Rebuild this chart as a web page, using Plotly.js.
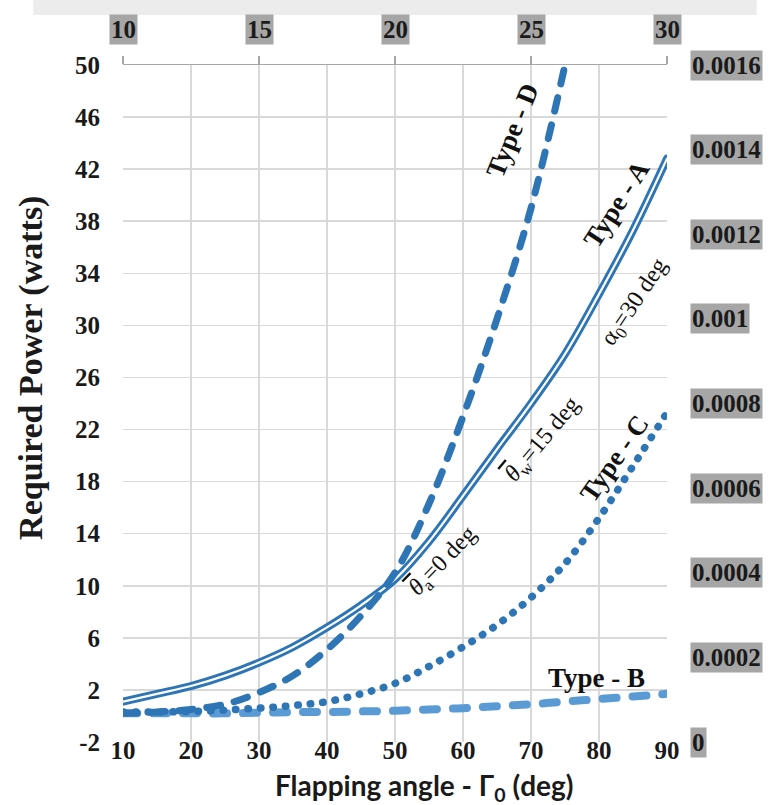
<!DOCTYPE html>
<html>
<head>
<meta charset="utf-8">
<script src="https://cdn.plot.ly/plotly-3.0.1.min.js"></script>
<style>
  html, body { margin: 0; padding: 0; background: #ffffff; }
  #chart { width: 779px; height: 805px; }
  #chart .scatterlayer .js-line { stroke-linecap: round !important; }
</style>
</head>
<body>
<div id="chart"></div>
<script>
// Flapping angle (deg), bottom axis
const flapAngle = [10, 15, 20, 25, 30, 35, 40, 45, 50, 55, 60, 65, 70, 75, 80, 85, 90];
// Required power (watts)
const typeA = [1.1, 1.7, 2.3, 3.1, 4.1, 5.3, 6.8, 8.5, 10.5, 13.4, 16.9, 20.5, 24.0, 27.8, 32.4, 37.3, 42.8];
const typeB = [0.2, 0.2, 0.2, 0.2, 0.25, 0.3, 0.3, 0.35, 0.4, 0.5, 0.6, 0.75, 0.9, 1.1, 1.3, 1.5, 1.7];
const typeC = [0.3, 0.3, 0.35, 0.45, 0.6, 0.8, 1.1, 1.7, 2.5, 3.8, 5.3, 7.0, 9.1, 11.7, 15.2, 19.2, 23.3];
const flapAngleD = [10, 15, 20, 25, 30, 35, 40, 45, 50, 55, 60, 65, 70, 75];
const typeD = [0.2, 0.3, 0.5, 0.9, 1.8, 3.1, 5.1, 7.7, 11.0, 16.3, 23.0, 30.5, 39.0, 50.0];

// Axis ticks
const leftTicks = [-2, 2, 6, 10, 14, 18, 22, 26, 30, 34, 38, 42, 46, 50];
const bottomTicks = [10, 20, 30, 40, 50, 60, 70, 80, 90];
const topTicks = [10, 15, 20, 25, 30];
const rightTicks = [0, 0.0002, 0.0004, 0.0006, 0.0008, 0.001, 0.0012, 0.0014, 0.0016];
const rightTickText = ['0', '0.0002', '0.0004', '0.0006', '0.0008', '0.001', '0.0012', '0.0014', '0.0016'];

const blue = '#2e75b6';
const lightBlue = '#5b9bd5';
const serif = 'Liberation Serif, Times New Roman, serif';
const tickFont = { family: serif, size: 25, color: '#1a1a1a', weight: 'bold' };

const traces = [
  { x: flapAngle, y: typeB, mode: 'lines', name: 'Type - B',
    line: { color: lightBlue, width: 8, dash: '14px,16px', shape: 'spline' } },
  { x: flapAngle, y: typeC, mode: 'lines', name: 'Type - C',
    line: { color: blue, width: 7.5, dash: '0.5px,12px', shape: 'spline' } },
  { x: flapAngle, y: typeA, mode: 'lines', name: 'Type - A',
    line: { color: blue, width: 8, shape: 'spline' } },
  { x: flapAngle, y: typeA, mode: 'lines', name: 'Type - A (inner)', showlegend: false, hoverinfo: 'skip',
    line: { color: '#ffffff', width: 2.2, shape: 'spline' } },
  { x: flapAngleD, y: typeD, mode: 'lines', name: 'Type - D',
    line: { color: blue, width: 7, dash: '14px,14px', shape: 'spline' } },
  // secondary axes (top / right) carry no visible data
  { x: [topTicks[0], topTicks[topTicks.length - 1]], y: [rightTicks[0], rightTicks[rightTicks.length - 1]],
    xaxis: 'x2', yaxis: 'y2', mode: 'lines', opacity: 0, showlegend: false, hoverinfo: 'skip',
    line: { width: 0 } }
];

const annotations = [];
topTicks.forEach(t => annotations.push({
  x: t, xref: 'x2', y: 1, yref: 'paper', yanchor: 'bottom', yshift: 20,
  text: String(t), showarrow: false, bgcolor: '#a6a6a6', borderpad: 1,
  font: tickFont
}));
rightTicks.forEach((t, i) => annotations.push({
  x: 1, xref: 'paper', xanchor: 'left', xshift: 23, y: t, yref: 'y2',
  text: rightTickText[i], showarrow: false, bgcolor: '#a6a6a6', borderpad: 1,
  font: tickFont
}));

const lblBold = { family: serif, size: 27, color: '#111111', weight: 'bold' };
const lblReg = { family: serif, size: 24, color: '#111111' };
const theta = '<span style="text-decoration:overline"><i>θ</i></span>';
annotations.push(
  { x: 67.3, y: 45.0, xref: 'x', yref: 'y', text: 'Type - D', textangle: -68, showarrow: false, font: lblBold },
  { x: 82.6, y: 39.3, xref: 'x', yref: 'y', text: 'Type - A', textangle: -57, showarrow: false, font: lblBold },
  { x: 85.3, y: 31.7, xref: 'x', yref: 'y', text: 'α<sub>0</sub>=30 deg', textangle: -56, showarrow: false, font: lblReg },
  { x: 71.8, y: 21.2, xref: 'x', yref: 'y', text: theta + '<sub>w</sub>=15 deg', textangle: -50, showarrow: false, font: lblReg },
  { x: 57.1, y: 11.8, xref: 'x', yref: 'y', text: theta + '<sub>a</sub>=0 deg', textangle: -46, showarrow: false, font: lblReg },
  { x: 82.3, y: 19.8, xref: 'x', yref: 'y', text: 'Type - C', textangle: -55, showarrow: false, font: lblBold },
  { x: 79.6, y: 2.9, xref: 'x', yref: 'y', text: 'Type - B', textangle: 0, showarrow: false, font: lblBold },
  // axis titles
  { x: -0.168, xref: 'paper', y: 0.552, yref: 'paper', text: 'Required Power (watts)', textangle: -90,
    showarrow: false, xanchor: 'center', yanchor: 'middle',
    font: { family: serif, size: 34, color: '#1a1a1a', weight: 'bold' } },
  { x: 0.553, xref: 'paper', y: -0.066, yref: 'paper', text: 'Flapping angle - Γ<sub>0</sub> (deg)',
    showarrow: false, xanchor: 'center', yanchor: 'middle',
    font: { family: 'Lato, Open Sans, sans-serif', size: 28, color: '#1a1a1a', weight: 'bold' } }
);

const layout = {
  width: 779, height: 805,
  margin: { l: 123, r: 112, t: 65, b: 63 },
  paper_bgcolor: '#ffffff', plot_bgcolor: '#ffffff',
  showlegend: false,
  xaxis: {
    range: [10, 90], tickvals: bottomTicks, ticktext: bottomTicks.map(String),
    showgrid: true, gridcolor: '#d9d9d9', gridwidth: 1.5, zeroline: false, showline: false,
    ticks: '', tickfont: tickFont, ticklabelstandoff: -9,
    automargin: false
  },
  yaxis: {
    range: [-2, 50], tickvals: leftTicks, ticktext: leftTicks.map(String),
    showgrid: true, gridcolor: '#d9d9d9', gridwidth: 1.5, zeroline: false, showline: false,
    ticks: '', tickfont: tickFont, ticklabelstandoff: 22,
    automargin: false
  },
  xaxis2: {
    overlaying: 'x', side: 'top', anchor: 'y2', range: [10, 30], tickvals: topTicks,
    showticklabels: false, showgrid: false, zeroline: false,
    showline: true, linecolor: '#a6a6a6', linewidth: 1.5,
    ticks: 'outside', ticklen: 8, tickcolor: '#a6a6a6', tickwidth: 1.5
  },
  yaxis2: {
    overlaying: 'y', side: 'right', anchor: 'x2', range: [0, 0.0016], tickvals: rightTicks,
    showticklabels: false, showgrid: false, zeroline: false, showline: false, ticks: ''
  },
  shapes: [
    { type: 'rect', xref: 'paper', yref: 'paper', x0: -0.165, x1: 1.165, y0: 1.074, y1: 1.1,
      fillcolor: '#ececec', line: { width: 0 }, layer: 'below' }
  ],
  annotations: annotations
};

Plotly.newPlot('chart', traces, layout, { staticPlot: true, displayModeBar: false });
</script>
</body>
</html>
